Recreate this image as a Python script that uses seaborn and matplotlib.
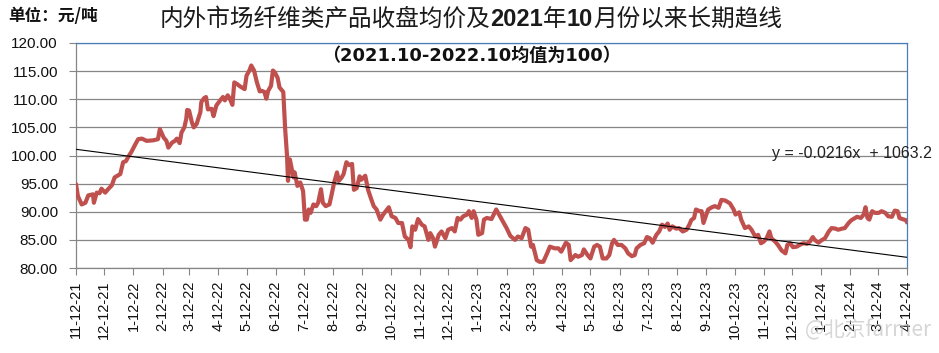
import numpy as np
import pandas as pd
import matplotlib
matplotlib.use("Agg")
import matplotlib.pyplot as plt
import matplotlib.dates as mdates
from matplotlib.ticker import FuncFormatter, FixedLocator
import seaborn as sns

# ---------------- data ----------------
start_date = "2021-11-12"
end_date = "2024-04-12"

# days since start_date
days = [0, 2, 6, 10, 13, 18, 19, 22, 25, 27, 31, 34, 38, 41, 47, 50, 53, 56, 59, 63,
        66, 70, 75, 82, 87, 89, 93, 96, 98, 102, 105, 107, 110, 112, 115, 117, 118, 120, 123, 125,
        128, 132, 133, 136, 138, 140, 144, 146, 149, 153, 156, 158, 161, 163, 166, 168, 171, 174, 179, 181,
        184, 186, 189, 192, 195, 197, 200, 202, 204, 207, 209, 211, 214, 216, 220, 222, 224, 225, 227, 229,
        231, 232, 235, 238, 241, 243, 245, 247, 249, 252, 255, 257, 260, 262, 265, 269, 271, 274, 277, 279,
        282, 284, 287, 290, 293, 295, 298, 301, 303, 307, 310, 313, 316, 319, 323, 326, 332, 335, 339, 342,
        346, 349, 353, 355, 357, 360, 363, 367, 370, 374, 376, 379, 381, 385, 388, 392, 395, 399, 402, 405,
        408, 411, 415, 417, 420, 422, 425, 427, 431, 433, 436, 441, 446, 449, 453, 457, 461, 466, 469, 473,
        477, 480, 483, 485, 489, 492, 496, 500, 503, 508, 512, 515, 520, 523, 525, 530, 533, 537, 539, 543,
        546, 550, 553, 556, 559, 563, 566, 569, 571, 575, 579, 583, 586, 590, 593, 595, 599, 603, 606, 609,
        612, 616, 619, 622, 625, 628, 630, 633, 637, 640, 644, 648, 651, 653, 656, 658, 662, 664, 666, 669,
        671, 675, 678, 682, 685, 689, 694, 698, 700, 704, 706, 710, 714, 717, 721, 724, 727, 730, 733, 736,
        738, 742, 745, 749, 753, 755, 758, 761, 765, 768, 772, 776, 779, 782, 784, 788, 791, 795, 799, 802,
        806, 809, 813, 816, 820, 823, 827, 829, 833, 836, 838, 840, 842, 845, 848, 852, 855, 859, 862, 866,
        869, 872, 874, 877, 881, 882]

values = [94.9, 92.8, 91.3, 91.6, 92.9, 93.1, 91.6, 93.4, 93.3, 94.1, 93.4, 94.0, 94.7, 96.1, 96.7, 98.8, 99.0, 99.9, 100.7, 102.0,
          102.9, 103.0, 102.6, 102.7, 102.9, 104.7, 103.2, 102.6, 101.4, 102.3, 102.6, 103.0, 102.2, 104.1, 105.0, 106.5, 108.1, 108.0, 105.9, 105.0,
          105.6, 107.7, 109.5, 110.2, 110.4, 108.2, 108.3, 107.0, 108.9, 109.8, 110.4, 109.8, 110.7, 110.2, 109.0, 113.0, 112.7, 112.3, 111.8, 114.2,
          115.1, 116.0, 115.1, 113.0, 111.4, 111.5, 111.3, 110.1, 111.5, 112.4, 115.1, 114.8, 113.8, 112.1, 111.3, 104.7, 99.9, 95.5, 99.3, 97.6,
          96.1, 97.0, 94.6, 95.2, 93.7, 88.6, 88.6, 90.4, 89.8, 91.3, 91.0, 91.6, 94.0, 91.6, 91.0, 91.3, 92.8, 95.2, 97.0, 95.5,
          96.1, 96.7, 98.8, 98.3, 98.5, 93.9, 94.2, 96.3, 95.7, 96.4, 93.9, 92.4, 91.0, 90.4, 88.6, 89.5, 90.8, 89.2, 88.9, 88.0,
          88.0, 85.6, 85.0, 83.7, 87.4, 86.8, 88.7, 87.7, 87.4, 85.0, 86.2, 85.3, 83.8, 85.9, 86.5, 85.3, 86.8, 87.1, 86.5, 88.9,
          88.6, 89.2, 89.5, 90.1, 88.9, 90.1, 88.6, 85.9, 86.2, 88.6, 88.9, 88.7, 90.4, 89.5, 88.3, 87.1, 85.7, 85.0, 85.6, 85.3,
          87.1, 86.8, 83.8, 84.1, 81.4, 81.1, 81.1, 82.6, 83.8, 83.5, 83.5, 82.9, 84.5, 84.1, 81.4, 82.3, 82.0, 82.3, 83.3, 82.3,
          81.7, 83.8, 84.1, 83.8, 81.7, 81.7, 82.3, 84.4, 85.0, 84.1, 84.1, 83.5, 82.6, 82.1, 82.3, 83.5, 84.1, 84.4, 85.5, 85.3,
          84.5, 85.9, 86.5, 87.7, 87.3, 87.9, 86.8, 87.4, 87.0, 87.1, 86.5, 86.8, 87.7, 88.5, 88.9, 90.4, 90.1, 90.1, 88.0, 89.5,
          90.4, 90.8, 91.0, 90.7, 92.1, 92.0, 91.5, 90.4, 89.5, 89.9, 88.6, 87.1, 87.4, 86.8, 85.6, 85.9, 84.4, 84.7, 85.3, 86.5,
          85.3, 84.7, 84.1, 83.1, 82.6, 84.1, 84.4, 83.7, 83.8, 84.1, 84.4, 84.3, 84.7, 85.5, 85.0, 84.5, 84.9, 85.3, 86.5, 87.1,
          87.0, 86.8, 87.0, 87.1, 88.0, 88.5, 88.9, 89.1, 88.9, 89.5, 90.8, 88.9, 88.6, 90.1, 89.8, 89.8, 90.1, 89.8, 89.2, 89.1,
          90.2, 90.1, 88.9, 88.7, 88.5, 88.1]

# linear trend line (value at start and end dates)
trend_dates = [start_date, end_date]
trend_values = [101.1, 81.9]

y_ticks = [80, 85, 90, 95, 100, 105, 110, 115, 120]

title_parts = [("内外市场纤维类产品收盘均价及", False), ("2021", True), ("年", False),
               ("10", True), ("月份以来长期趋线", False)]
subtitle = "（2021.10-2022.10均值为100）"
unit_label = "单位：元/吨"
equation_label = "y = -0.0216x  + 1063.2"
watermark = "@北京farmer"

# ---------------- style ----------------
sns.set_theme(style="white")
plt.rcParams['font.family'] = ['Liberation Sans', 'Noto Sans CJK SC', 'DejaVu Sans']

W, H = 939, 353
fig = plt.figure(figsize=(W / 100, H / 100), dpi=100)
fig.patch.set_facecolor("white")
ax = fig.add_axes([76 / W, 1 - 268 / H, (907 - 76) / W, (268 - 43) / H])

dates = pd.to_datetime(start_date) + pd.to_timedelta(days, unit="D")
df = pd.DataFrame({"x": mdates.date2num(dates), "price": values})
tdf = pd.DataFrame({"x": mdates.date2num(pd.to_datetime(trend_dates)), "trend": trend_values})
x0 = mdates.date2num(pd.Timestamp(start_date))
x1 = mdates.date2num(pd.Timestamp(end_date))

sns.lineplot(data=df, x="x", y="price", ax=ax, color="#C0504D", lw=3.0,
             solid_joinstyle="round", zorder=3)
sns.lineplot(data=tdf, x="x", y="trend", ax=ax, color="black", lw=0.8, zorder=4)
ax.set_xlim(x0, x1)
ax.set_ylim(80, 120)
ax.set_xlabel("")
ax.set_ylabel("")

# ticks
ax.xaxis.set_major_locator(mdates.MonthLocator(bymonthday=12))
ax.xaxis.set_major_formatter(FuncFormatter(
    lambda v, p: (lambda d: f"{d.month}-{d.day}-{d:%y}")(mdates.num2date(v))))
ax.yaxis.set_major_locator(FixedLocator(y_ticks))
ax.yaxis.set_major_formatter(FuncFormatter(lambda v, p: f"{v:.2f}"))

ax.tick_params(axis="both", direction="out", length=5, width=0.8, color="#868686",
               labelcolor="#111111")
ax.tick_params(axis="y", labelsize=11, pad=8, left=True)
ax.tick_params(axis="x", labelsize=10.5, pad=4, rotation=90, bottom=True)
for lab in ax.get_xticklabels():
    lab.set_verticalalignment("top")

ax.yaxis.grid(True, color="#868686", lw=0.9, zorder=0)
ax.xaxis.grid(False)
ax.set_axisbelow(True)
for side in ("left", "bottom"):
    ax.spines[side].set_color("#868686")
    ax.spines[side].set_linewidth(0.9)
for side in ("top", "right"):
    ax.spines[side].set_color("#4A7EBB")
    ax.spines[side].set_linewidth(0.9)

# ---------------- texts ----------------
fig.canvas.draw()
renderer = fig.canvas.get_renderer()


def draw_pieces(parts, cx, cy, size, color):
    texts, widths = [], []
    for s, bold in parts:
        t = fig.text(0, cy / H, s, fontsize=size,
                     fontweight="bold" if bold else "normal",
                     family=["Liberation Sans", "Noto Sans CJK SC"] if bold else ["Noto Sans CJK SC"],
                     va="center", ha="left", color=color)
        widths.append(t.get_window_extent(renderer).width)
        texts.append(t)
    x = cx - sum(widths) / 2
    for t, w in zip(texts, widths):
        t.set_x(x / W)
        x += w


draw_pieces(title_parts, 471, H - 19, 17, "#1a1a1a")
fig.text(471 / W, 1 - 55.5 / H, subtitle, fontsize=13, fontweight="bold",
         family=["DejaVu Sans", "Noto Sans CJK SC"], ha="center", va="center", color="#111111")
fig.text(8 / W, 1 - 16 / H, unit_label, fontsize=12, fontweight="bold",
         family=["Noto Sans CJK SC"], ha="left", va="center", color="#111111")
fig.text(772 / W, 1 - 154 / H, equation_label, fontsize=11.5,
         family=["Liberation Sans"], ha="left", va="center", color="#222222")
fig.text(805 / W, 1 - 330 / H, watermark, fontsize=15,
         family=["Noto Sans CJK SC"], ha="left", va="center", color="#bbbbbb", alpha=0.6)

fig.savefig("out.png", dpi=100)
